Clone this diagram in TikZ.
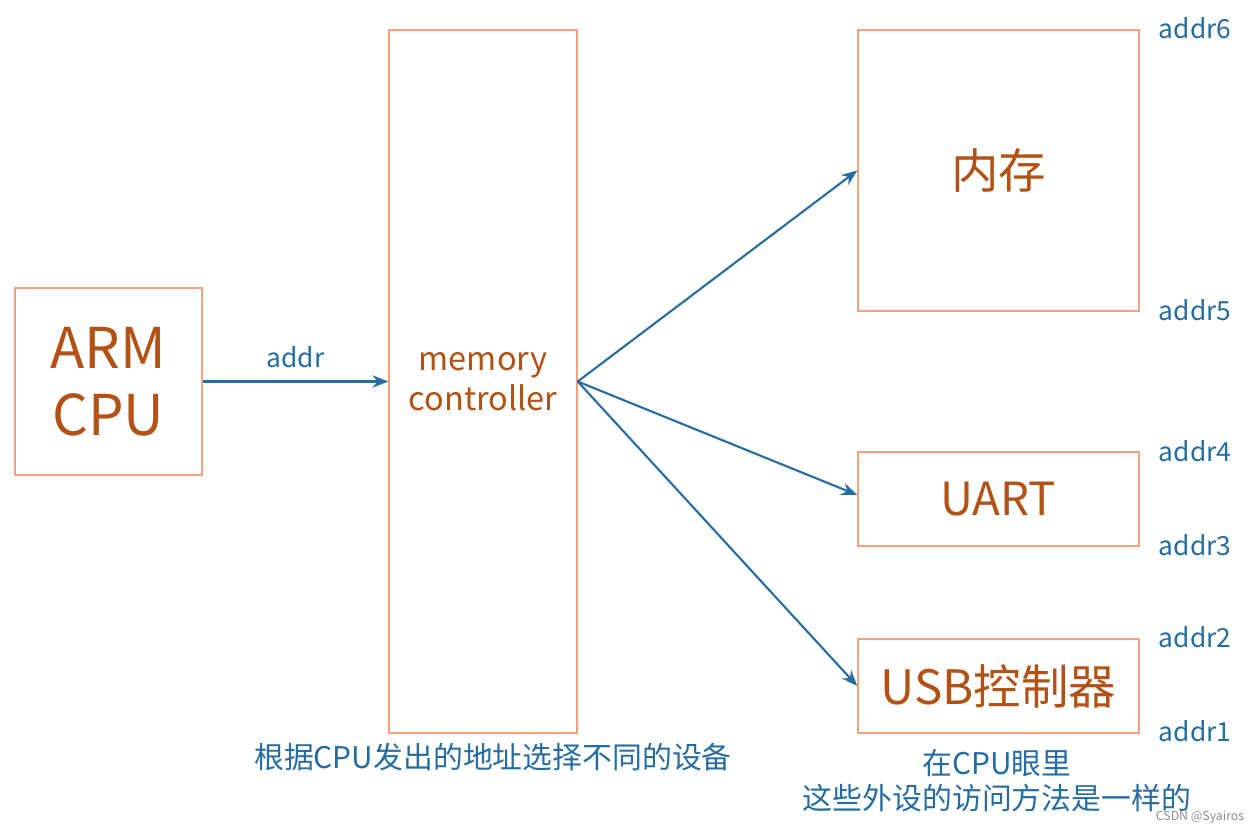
\documentclass[tikz,border=0pt]{standalone}
\usepackage{fontspec}
\setmainfont{Noto Sans CJK SC}
\usetikzlibrary{arrows.meta}
\definecolor{boxline}{RGB}{247,160,128}
\definecolor{boxtext}{RGB}{178,82,22}
\definecolor{linkblue}{RGB}{38,108,160}
\tikzset{
  unit/.style={draw=boxline,line width=0.8pt,text=boxtext,align=center,inner sep=0pt},
  link/.style={linkblue,line width=1.2pt,-{Stealth[length=9pt,width=7pt]}},
  addrlabel/.style={text=linkblue,font=\fontsize{15}{16}\selectfont},
  note/.style={text=linkblue,font=\fontsize{17}{20}\selectfont,align=center}
}
\begin{document}
\begin{tikzpicture}[x=0.02cm,y=-0.02cm]
  \useasboundingbox (0,0) rectangle (1254,834);
  % boxes
  \node[unit,minimum width=187*0.02cm,minimum height=187*0.02cm,font=\fontsize{32}{38}\selectfont] (cpu) at (108.5,381.5) {ARM\\CPU};
  \node[unit,minimum width=188*0.02cm,minimum height=703*0.02cm,font=\fontsize{18.5}{23}\selectfont] (mc) at (483,381.5) {memory\\controller};
  \node[unit,minimum width=281*0.02cm,minimum height=281*0.02cm,font=\fontsize{27}{30}\selectfont] (mem) at (998.5,170.5) {内存};
  \node[unit,minimum width=281*0.02cm,minimum height=94*0.02cm,font=\fontsize{26}{30}\selectfont] (uart) at (998.5,499) {UART};
  \node[unit,minimum width=281*0.02cm,minimum height=94*0.02cm,font=\fontsize{27}{30}\selectfont] (usb) at (998.5,686) {USB控制器};
  % connectors
  \draw[link] (cpu.east) -- node[addrlabel,above=4pt] {addr} (mc.west);
  \coordinate (fan) at (mc.east);
  \draw[link] (fan) -- (mem.west);
  \draw[link] (fan) -- (uart.west |- 0,495);
  \draw[link] (fan) -- (usb.west);
  % addresses
  \node[addrlabel] (a6) at (1195,28) {addr6};
  \node[addrlabel] (a5) at (1195,310) {addr5};
  \node[addrlabel] (a4) at (1195,451) {addr4};
  \node[addrlabel] (a3) at (1195,545) {addr3};
  \node[addrlabel] (a2) at (1195,637) {addr2};
  \node[addrlabel] (a1) at (1195,731) {addr1};
  % notes
  \node[note] (n1) at (493,757) {根据CPU发出的地址选择不同的设备};
  \node[note] (n2) at (997,781) {在CPU眼里\\这些外设的访问方法是一样的};
  \node[text=black!45,font=\fontsize{7}{8}\selectfont] (wm) at (1200,817) {CSDN @Syairos};
\end{tikzpicture}
\end{document}
